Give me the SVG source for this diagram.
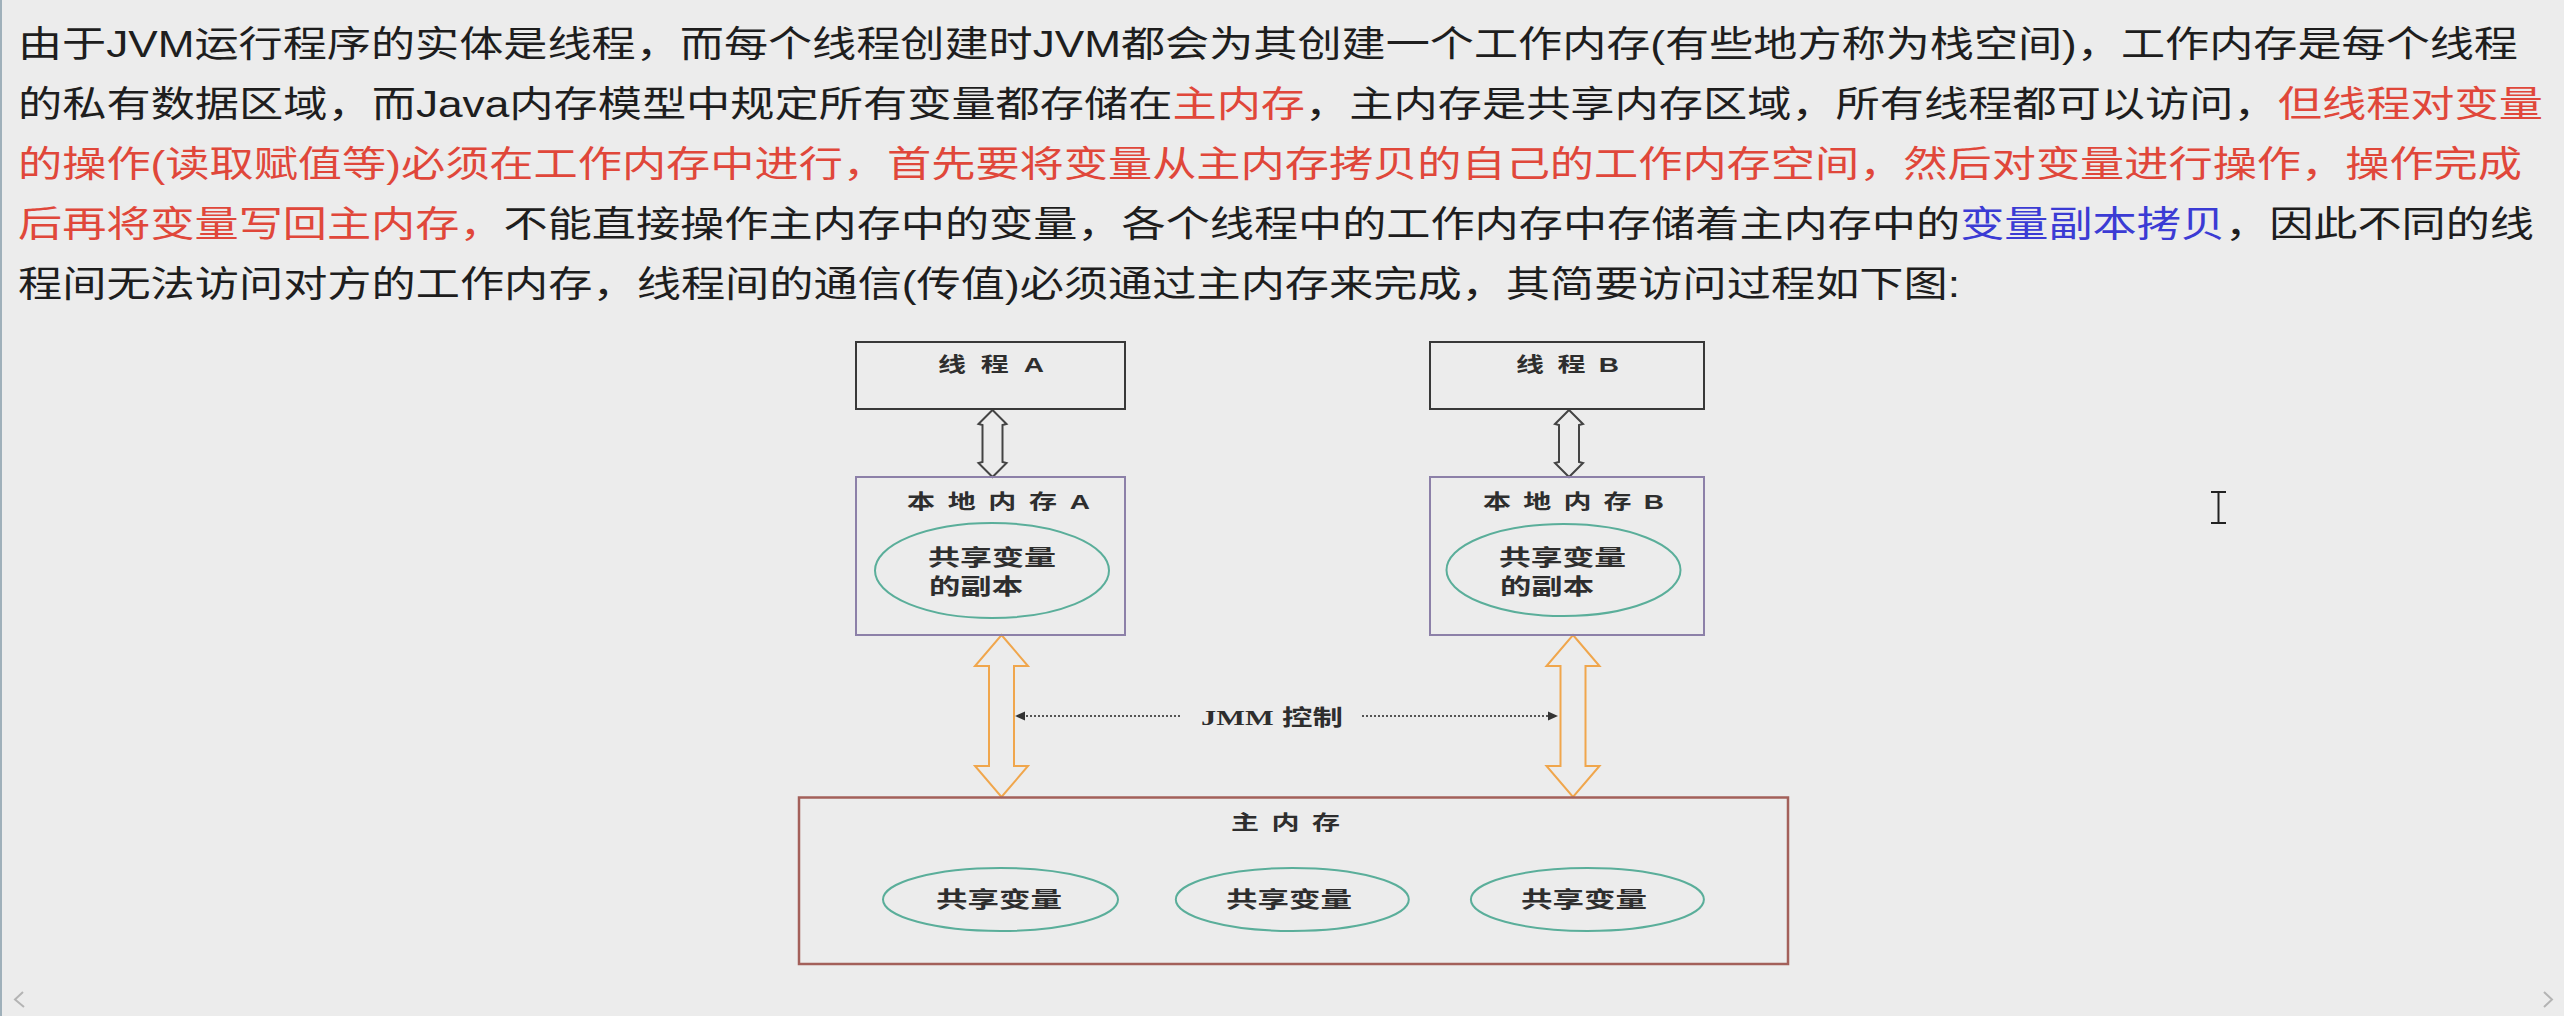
<svg xmlns="http://www.w3.org/2000/svg" xmlns:xlink="http://www.w3.org/1999/xlink" width="2564" height="1016" viewBox="0 0 2564 1016">
<style>
.para{font-family:"Liberation Sans","Noto Sans CJK SC",sans-serif;font-size:36px;fill:#1e1e1e}
.red{fill:#e0473a}
.blue{fill:#3b3bd4}
.lbl{font-family:"Liberation Sans","Noto Sans CJK SC",sans-serif;font-size:22px;font-weight:700;fill:#2e2e2e}
.sp{font-size:20px}
.thread{fill:none;stroke:#383838;stroke-width:2}
.local{fill:none;stroke:#8c80a8;stroke-width:2}
.main{fill:none;stroke:#a3605a;stroke-width:2.5}
.var{fill:none;stroke:#5aae9a;stroke-width:2}
.hollow{fill:#ececec;stroke:#444;stroke-width:2;stroke-linejoin:miter}
.orange{fill:#ececec;stroke:#f0a64c;stroke-width:2}
.jmm{fill:none;stroke:#555;stroke-width:1.8;stroke-dasharray:2 2}
</style>
<defs>
<path id="dblSmall" d="M0,0 L14,14 L10,15 L10,52 L14,53 L0,67 L-14,53 L-10,52 L-10,15 L-14,14 Z"/>
<path id="dblBig" d="M0,0 L26.5,31 L12.5,31 L12.5,131 L26.5,131 L0,162 L-26.5,131 L-12.5,131 L-12.5,31 L-26.5,31 Z"/>
<marker id="arr" viewBox="0 0 10 10" refX="9" refY="5" markerWidth="10" markerHeight="10" markerUnits="userSpaceOnUse" orient="auto">
<path d="M0,0.5 L10,5 L0,9.5 Z" fill="#333"/>
</marker>
</defs>
<rect x="0" y="0" width="2564" height="1016" fill="#ececec"/>
<line x1="1" y1="0" x2="1" y2="1016" stroke="#9fb0ba" stroke-width="2"/>

<g id="paragraph">
<text class="para" x="18" y="57" textLength="2500" lengthAdjust="spacingAndGlyphs">由于JVM运行程序的实体是线程，而每个线程创建时JVM都会为其创建一个工作内存(有些地方称为栈空间)，工作内存是每个线程</text>
<text class="para" x="18" y="117" textLength="2525" lengthAdjust="spacingAndGlyphs">的私有数据区域，而Java内存模型中规定所有变量都存储在<tspan class="red">主内存</tspan>，主内存是共享内存区域，所有线程都可以访问，<tspan class="red">但线程对变量</tspan></text>
<text class="para red" x="18" y="177" textLength="2504" lengthAdjust="spacingAndGlyphs">的操作(读取赋值等)必须在工作内存中进行，首先要将变量从主内存拷贝的自己的工作内存空间，然后对变量进行操作，操作完成</text>
<text class="para" x="18" y="237" textLength="2516" lengthAdjust="spacingAndGlyphs"><tspan class="red">后再将变量写回主内存，</tspan>不能直接操作主内存中的变量，各个线程中的工作内存中存储着主内存中的<tspan class="blue">变量副本拷贝</tspan>，因此不同的线</text>
<text class="para" x="18" y="297" textLength="1942" lengthAdjust="spacingAndGlyphs">程间无法访问对方的工作内存，线程间的通信(传值)必须通过主内存来完成，其简要访问过程如下图:</text>
</g>

<g id="connectors">
<use xlink:href="#dblSmall" class="hollow" transform="translate(992.5,410)"/>
<use xlink:href="#dblSmall" class="hollow" transform="translate(1569,410)"/>
<use xlink:href="#dblBig" class="orange" transform="translate(1001.5,635)"/>
<use xlink:href="#dblBig" class="orange" transform="translate(1573,635)"/>
<line class="jmm" x1="1180" y1="716" x2="1016" y2="716" marker-end="url(#arr)"/>
<line class="jmm" x1="1362" y1="716" x2="1557" y2="716" marker-end="url(#arr)"/>
<text class="lbl" x="1201" y="725" textLength="142" lengthAdjust="spacingAndGlyphs"><tspan font-family="Liberation Serif">JMM</tspan> 控制</text>
</g>

<g id="thread-a">
<rect class="thread" x="856" y="342" width="269" height="67"/>
<text class="lbl sp" transform="translate(938,372) scale(1.4,1)" x="0" y="0" textLength="75.7" lengthAdjust="spacing">线 程 A</text>
</g>
<g id="thread-b">
<rect class="thread" x="1430" y="342" width="274" height="67"/>
<text class="lbl sp" transform="translate(1516,372) scale(1.4,1)" x="0" y="0" textLength="73.6" lengthAdjust="spacing">线 程 B</text>
</g>

<g id="local-a">
<rect class="local" x="856" y="477" width="269" height="158"/>
<text class="lbl sp" transform="translate(907,509) scale(1.4,1)" x="0" y="0" textLength="130.7" lengthAdjust="spacing">本 地 内 存 A</text>
<g id="copy-a">
<ellipse class="var" cx="992" cy="570.5" rx="117" ry="47.5"/>
<text class="lbl" x="928" y="565" textLength="128" lengthAdjust="spacingAndGlyphs">共享变量</text>
<text class="lbl" x="929" y="594" textLength="94" lengthAdjust="spacingAndGlyphs">的副本</text>
</g>
</g>
<g id="local-b">
<rect class="local" x="1430" y="477" width="274" height="158"/>
<text class="lbl sp" transform="translate(1483,509) scale(1.4,1)" x="0" y="0" textLength="129.3" lengthAdjust="spacing">本 地 内 存 B</text>
<g id="copy-b">
<ellipse class="var" cx="1563.5" cy="570" rx="117" ry="46"/>
<text class="lbl" x="1499" y="565" textLength="127" lengthAdjust="spacingAndGlyphs">共享变量</text>
<text class="lbl" x="1500" y="594" textLength="94" lengthAdjust="spacingAndGlyphs">的副本</text>
</g>
</g>

<g id="main-memory">
<rect class="main" x="799" y="797.5" width="989" height="166.5"/>
<text class="lbl sp" transform="translate(1231,830) scale(1.4,1)" x="0" y="0" textLength="77.9" lengthAdjust="spacing">主 内 存</text>
<g id="shared-1">
<ellipse class="var" cx="1000.5" cy="899.5" rx="117.5" ry="31.5"/>
<text class="lbl" x="936" y="907" textLength="126" lengthAdjust="spacingAndGlyphs">共享变量</text>
</g>
<g id="shared-2">
<ellipse class="var" cx="1292.3" cy="899.5" rx="116.5" ry="31.5"/>
<text class="lbl" x="1226" y="907" textLength="126" lengthAdjust="spacingAndGlyphs">共享变量</text>
</g>
<g id="shared-3">
<ellipse class="var" cx="1587.4" cy="899.5" rx="116.5" ry="31.5"/>
<text class="lbl" x="1521" y="907" textLength="126" lengthAdjust="spacingAndGlyphs">共享变量</text>
</g>
</g>

<g id="cursor" stroke="#222" stroke-width="2" fill="none">
<line x1="2218.5" y1="492" x2="2218.5" y2="523"/>
<line x1="2211" y1="492" x2="2226" y2="492"/>
<line x1="2211" y1="523" x2="2226" y2="523"/>
</g>
<g id="scroll-arrows" stroke="#b4b4b4" stroke-width="2" fill="none">
<polyline points="23,992 15,999.5 24,1007"/>
<polyline points="2544,992 2552,999.5 2544,1007"/>
</g>
</svg>
